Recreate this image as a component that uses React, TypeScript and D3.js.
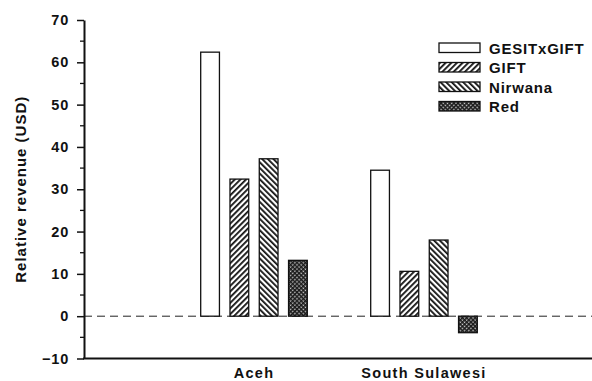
import React, { useEffect, useRef } from 'react';
import * as d3 from 'd3';

// data
const regions = ['Aceh', 'South Sulawesi'];
const series = ['GESITxGIFT', 'GIFT', 'Nirwana', 'Red'];
const gesitValues = [62.4, 34.5];
const giftValues = [32.4, 10.6];
const nirwanaValues = [37.2, 18.0];
const redValues = [13.2, -3.9];
const yTicks = [-10, 0, 10, 20, 30, 40, 50, 60, 70];

const valuesBySeries = [gesitValues, giftValues, nirwanaValues, redValues];
const fills = ['#fff', 'url(#pat-fwd)', 'url(#pat-back)', 'url(#pat-dots)'];

const W = 592;
const H = 381;
const FONT = '"Liberation Sans", Arial, Helvetica, sans-serif';

const drawChart = (el: SVGSVGElement) => {
  const svg = d3.select(el);
  svg.selectAll('*').remove();

  const margin = { top: 20, right: -2, bottom: 23, left: 84 };
  const plotW = W - margin.left - margin.right;

  // hatch patterns
  const defs = svg.append('defs');
  const fwd = defs
    .append('pattern')
    .attr('id', 'pat-fwd')
    .attr('patternUnits', 'userSpaceOnUse')
    .attr('width', 4)
    .attr('height', 4)
    .attr('patternTransform', 'rotate(45)');
  fwd.append('rect').attr('width', 4).attr('height', 4).attr('fill', '#fff');
  fwd.append('rect').attr('width', 1.8).attr('height', 4).attr('fill', '#111');

  const back = defs
    .append('pattern')
    .attr('id', 'pat-back')
    .attr('patternUnits', 'userSpaceOnUse')
    .attr('width', 4)
    .attr('height', 4)
    .attr('patternTransform', 'rotate(-45)');
  back.append('rect').attr('width', 4).attr('height', 4).attr('fill', '#fff');
  back.append('rect').attr('width', 1.8).attr('height', 4).attr('fill', '#111');

  const dots = defs
    .append('pattern')
    .attr('id', 'pat-dots')
    .attr('patternUnits', 'userSpaceOnUse')
    .attr('width', 3)
    .attr('height', 3)
    .attr('patternTransform', 'rotate(45)');
  dots.append('rect').attr('width', 3).attr('height', 3).attr('fill', '#1a1a1a');
  dots.append('rect').attr('x', 0.6).attr('y', 0.6).attr('width', 1.3).attr('height', 1.3).attr('fill', '#fff');

  const y = d3.scaleLinear().domain([-10, 70]).range([358.5, 20]);

  const x0 = d3
    .scalePoint<string>()
    .domain(regions)
    .range([margin.left, margin.left + plotW])
    .padding(1);

  const x1 = d3
    .scaleBand<string>()
    .domain(series)
    .range([-53.3, 53.3])
    .paddingInner(0.36)
    .paddingOuter(0);

  // zero reference line
  svg
    .append('line')
    .attr('x1', margin.left)
    .attr('x2', W)
    .attr('y1', y(0))
    .attr('y2', y(0))
    .attr('stroke', '#222')
    .attr('stroke-width', 1)
    .attr('stroke-dasharray', '8,5');

  // bars
  series.forEach((s, si) => {
    svg
      .append('g')
      .selectAll('rect')
      .data(regions)
      .enter()
      .append('rect')
      .attr('x', (d) => (x0(d) as number) + (x1(s) as number))
      .attr('width', x1.bandwidth())
      .attr('y', (d, i) => y(Math.max(0, valuesBySeries[si][i])))
      .attr('height', (d, i) => Math.abs(y(valuesBySeries[si][i]) - y(0)))
      .attr('fill', fills[si])
      .attr('stroke', '#111')
      .attr('stroke-width', 1.3);
  });

  // y axis with minor ticks
  const yMinor = d3.range(-10, 71, 5).filter((v) => v % 10 !== 0);
  const minorG = svg.append('g').attr('transform', `translate(${margin.left},0)`);
  minorG
    .selectAll('line')
    .data(yMinor)
    .enter()
    .append('line')
    .attr('x1', -4)
    .attr('x2', 0)
    .attr('y1', (d) => y(d))
    .attr('y2', (d) => y(d))
    .attr('stroke', '#111')
    .attr('stroke-width', 1.3);

  const yAxis = svg
    .append('g')
    .attr('transform', `translate(${margin.left},0)`)
    .call(d3.axisLeft(y).tickValues(yTicks).tickSize(7).tickPadding(8).tickSizeOuter(0));
  yAxis.select('.domain').attr('stroke', '#111').attr('stroke-width', 2);
  yAxis.selectAll('.tick line').attr('stroke', '#111').attr('stroke-width', 1.5);
  yAxis
    .selectAll('.tick text')
    .attr('fill', '#111')
    .style('font-family', FONT)
    .style('font-size', '14.5px')
    .style('letter-spacing', '0.8px')
    .style('font-weight', 'bold');

  // x axis line and category labels
  svg
    .append('line')
    .attr('x1', margin.left - 1)
    .attr('x2', W)
    .attr('y1', y(-10))
    .attr('y2', y(-10))
    .attr('stroke', '#111')
    .attr('stroke-width', 2);

  svg
    .append('g')
    .selectAll('text')
    .data(regions)
    .enter()
    .append('text')
    .attr('x', (d) => x0(d) as number)
    .attr('y', 378)
    .attr('text-anchor', 'middle')
    .attr('fill', '#111')
    .style('font-family', FONT)
    .style('font-size', '14.5px')
    .style('letter-spacing', '1.3px')
    .style('font-weight', 'bold')
    .text((d) => d);

  // axis title
  svg
    .append('text')
    .attr('transform', `translate(26,${(y(70) + y(-10)) / 2}) rotate(-90)`)
    .attr('text-anchor', 'middle')
    .attr('fill', '#111')
    .style('font-family', FONT)
    .style('font-size', '15px')
    .style('letter-spacing', '1px')
    .style('font-weight', 'bold')
    .text('Relative revenue (USD)');

  // legend
  const legend = svg.append('g').attr('transform', 'translate(439,43)');
  series.forEach((s, i) => {
    const row = legend.append('g').attr('transform', `translate(0,${i * 19.5})`);
    row
      .append('rect')
      .attr('width', 41)
      .attr('height', 9.5)
      .attr('fill', fills[i])
      .attr('stroke', '#111')
      .attr('stroke-width', 1.3);
    row
      .append('text')
      .attr('x', 50)
      .attr('y', 10.5)
      .attr('fill', '#111')
      .style('font-family', FONT)
      .style('font-size', '15px')
      .style('letter-spacing', '0.8px')
      .style('font-weight', 'bold')
      .text(s);
  });
};

const App = () => {
  const ref = useRef<SVGSVGElement>(null);
  useEffect(() => {
    if (ref.current) drawChart(ref.current);
  });
  return (
    <svg
      ref={ref}
      width={W}
      height={H}
      style={{ position: 'absolute', left: 0, top: 0, background: '#fff' }}
    />
  );
};

export default App;
